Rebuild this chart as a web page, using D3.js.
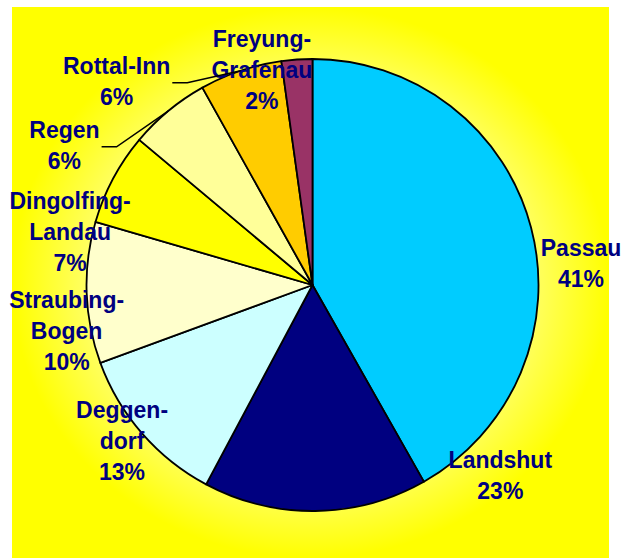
<!DOCTYPE html>
<html>
<head>
<meta charset="utf-8">
<script src="https://cdn.jsdelivr.net/npm/d3@7"></script>
<style>
  html, body { margin: 0; padding: 0; background: #fff; }
  svg { display: block; }
</style>
</head>
<body>
<div id="chart"></div>
<script>
// ── 데이터 ────────────────────────────────────────────
const regions  = ['Passau', 'Landshut', 'Deggendorf', 'Straubing-Bogen', 'Dingolfing-Landau', 'Regen', 'Rottal-Inn', 'Freyung-Grafenau'];
const shares   = [41.8, 16.0, 11.6, 10.1, 6.6, 5.8, 5.9, 2.2];   // slice sizes as drawn
const pctLabel = ['41%', '23%', '13%', '10%', '7%', '6%', '6%', '2%'];
const nameLines = [['Passau'], ['Landshut'], ['Deggen-', 'dorf'], ['Straubing-', 'Bogen'],
                   ['Dingolfing-', 'Landau'], ['Regen'], ['Rottal-Inn'], ['Freyung-', 'Grafenau']];

// ── 스타일 ────────────────────────────────────────────
const COLORS = ['#00ccff', '#000080', '#ccffff', '#ffffcc', '#ffff00', '#ffff99', '#ffcc00', '#993366'];
const LABEL_OFF = [[50, 36], [185, -36], [-20, 7], [-20, 38], [-43, 53], [-104, 34], [-124, 10], [-35, 10]];
const LEADER = [false, false, false, false, false, true, true, false];

const W = 634, H = 558;
const cx = 312.5, cy = 285, R = 226;
const FS = 23, LH = 31;

const svg = d3.select('#chart').append('svg')
  .attr('width', W).attr('height', H);

const grad = svg.append('defs').append('radialGradient')
  .attr('id', 'bg').attr('cx', 0.5).attr('cy', 0.5).attr('r', 0.5);
grad.append('stop').attr('offset', 0).attr('stop-color', '#ffffff');
grad.append('stop').attr('offset', 0.55).attr('stop-color', '#ffffb0');
grad.append('stop').attr('offset', 1).attr('stop-color', '#ffff00');

svg.append('rect')
  .attr('x', 12).attr('y', 7).attr('width', 597).attr('height', H - 7)
  .attr('fill', 'url(#bg)');

const pie = d3.pie().sort(null).value(d => d)(shares);
const arc = d3.arc().innerRadius(0).outerRadius(R);
const edge = d3.arc().innerRadius(R).outerRadius(R);

const g = svg.append('g').attr('transform', `translate(${cx},${cy})`);

g.selectAll('path.slice')
  .data(pie)
  .join('path')
  .attr('class', 'slice')
  .attr('d', arc)
  .attr('fill', (d, i) => COLORS[i])
  .attr('stroke', '#000')
  .attr('stroke-width', 1.8)
  .attr('stroke-linejoin', 'round');

// ── 레이블 ────────────────────────────────────────────
const labelG = g.append('g');
const leaderG = g.append('g');

pie.forEach((d, i) => {
  const [ax, ay] = edge.centroid(d);
  const lx = ax + LABEL_OFF[i][0];
  const ly = ay + LABEL_OFF[i][1];
  const lines = nameLines[i].concat(pctLabel[i]);
  const y0 = ly - (lines.length - 1) * LH / 2;

  const t = labelG.append('text')
    .attr('text-anchor', 'middle')
    .attr('font-family', "'Liberation Sans', Arial, sans-serif")
    .attr('font-weight', 'bold')
    .attr('font-size', FS)
    .attr('fill', '#000080');
  lines.forEach((s, k) => {
    t.append('tspan')
      .attr('x', lx)
      .attr('y', y0 + k * LH + FS * 0.36)
      .text(s);
  });

  if (LEADER[i]) {
    const w = t.select('tspan').node().getComputedTextLength();
    const sx = lx + w / 2 + 2;
    const sy = ly + 2;
    leaderG.append('polyline')
      .attr('points', [[sx, sy], [sx + 15, sy], [ax, ay]].map(p => p.join(',')).join(' '))
      .attr('fill', 'none')
      .attr('stroke', '#000')
      .attr('stroke-width', 1.5);
  }
});
</script>
</body>
</html>
